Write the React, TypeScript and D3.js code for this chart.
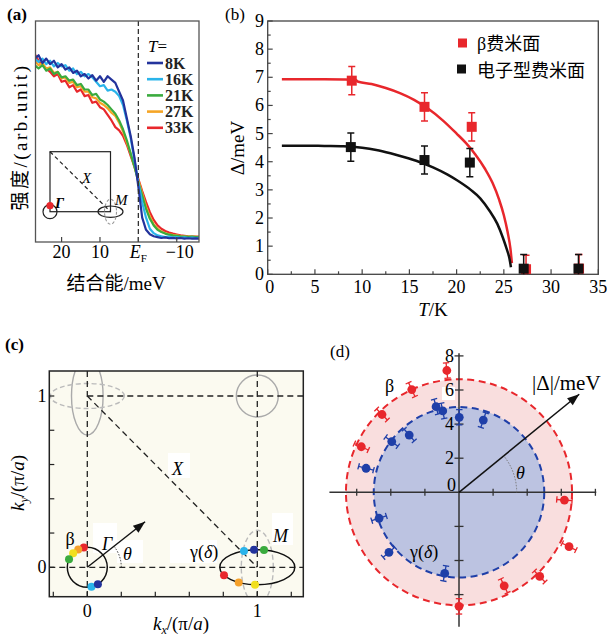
import React from 'react';
import * as d3 from 'd3';

const SERIF = "'Liberation Serif','Times New Roman',serif";
const MIX = "'Liberation Serif','Noto Sans CJK SC',serif";

// ---------- (a) EDC curves ----------
const bindingEnergy = [27, 26, 25, 24, 23, 22, 21, 20, 19, 18, 17, 16, 15, 14, 13, 12, 11, 10, 9, 8, 7, 6, 5, 4, 3, 2, 1, 0, -1, -2, -3, -4, -5, -6, -7, -8, -9, -10, -11, -12, -13, -14, -15, -16];
const edc8K = [83, 84.5, 81, 83, 80.5, 82, 79, 80.5, 78, 79, 76.5, 77.5, 75, 76, 74, 75.5, 73, 75, 72.5, 75, 73.5, 72, 68, 64, 56, 48, 38, 25, 11, 5.5, 3.5, 2.6, 2.2, 1.8, 2.1, 1.7, 1.9, 1.6, 1.8, 1.5, 1.7, 1.5, 1.6, 1.5];
const edc16K = [83, 81.5, 83, 80.5, 82, 79.5, 81, 79.5, 80, 77.5, 78.5, 76, 77, 75, 76, 74.5, 72.5, 70.5, 71, 68.5, 69, 68, 66, 62, 55, 47, 37, 27, 18, 11, 6, 4, 3, 2.6, 2.2, 2.4, 2, 2.2, 1.9, 2.1, 1.8, 2, 1.8, 1.9];
const edc21K = [80, 78.5, 80, 77.5, 78.5, 76, 77, 74.5, 75, 73, 73.5, 71, 71.5, 69, 69, 66.5, 67, 64.5, 63.5, 62, 60, 58, 55, 51, 46, 40, 34, 27, 21, 15, 10.5, 7.5, 5.5, 4.5, 3.8, 3.3, 3, 2.8, 2.6, 2.5, 2.3, 2.4, 2.2, 2.3];
const edc27K = [82, 80, 81, 78.5, 79, 76.5, 77, 74, 74.5, 72, 72.5, 70, 70.5, 68, 68, 65.5, 65, 63, 62, 60.5, 58.5, 57, 54, 50, 45, 40, 34, 28, 22, 16, 11.5, 8, 6, 4.8, 4, 3.5, 3.2, 3, 2.7, 2.6, 2.4, 2.5, 2.3, 2.3];
const edc33K = [85, 82, 80, 78.5, 77, 75, 76, 72.5, 73, 70, 71, 68, 69, 66, 66.5, 63, 63.5, 61, 60, 57.5, 55, 52, 50.5, 48, 44, 39, 34, 28.5, 23, 18, 13.5, 10, 7.5, 6, 5, 4.3, 3.8, 3.4, 3, 2.8, 2.6, 2.5, 2.4, 2.3];
const tempLabels = ['8K', '16K', '21K', '27K', '33K'];
const tempColors = ['#23339c', '#2ab4ea', '#3aab3e', '#f5a526', '#e8272c'];
const aTicks = [20, 10, 0, -10];

// ---------- (b) gap vs T ----------
const betaT = [8.9, 16.6, 21.6, 27.35, 32.96];
const betaGap = [6.88, 5.95, 5.24, 0.18, 0.2];
const betaErr = [0.5, 0.5, 0.5, 0.5, 0.5];
const elecT = [8.8, 16.6, 21.4, 27.1, 32.9];
const elecGap = [4.52, 4.06, 3.97, 0.2, 0.2];
const elecErr = [0.5, 0.5, 0.5, 0.5, 0.5];
const betaFitT = [1.5, 4, 6, 8, 9.3, 9.6, 11, 12.5, 14, 15.5, 17, 18.5, 20, 21, 22, 23, 23.8, 24.5, 25, 25.4, 25.7, 25.85];
const betaFitD = [6.93, 6.93, 6.93, 6.92, 6.9, 6.84, 6.76, 6.62, 6.44, 6.2, 5.88, 5.48, 5.0, 4.66, 4.25, 3.75, 3.25, 2.65, 2.1, 1.5, 0.9, 0.4];
const elecFitT = [1.5, 4, 6, 8, 10, 11.5, 13, 14.5, 16, 17.5, 19, 20, 21.5, 22.5, 23.5, 24.3, 24.9, 25.3, 25.6, 25.75];
const elecFitD = [4.57, 4.57, 4.56, 4.55, 4.5, 4.42, 4.3, 4.16, 4.0, 3.8, 3.55, 3.35, 3.0, 2.7, 2.25, 1.8, 1.3, 0.9, 0.55, 0.25];
const bXTicks = [0, 5, 10, 15, 20, 25, 30, 35];
const bYTicks = [0, 1, 2, 3, 4, 5, 6, 7, 8, 9];

// ---------- (c) Brillouin zone ----------
const cXTicks = [-0.2, 0, 0.2, 0.4, 0.6, 0.8, 1, 1.2];
const cYTicks = [0, 0.2, 0.4, 0.6, 0.8, 1];
const gammaDotAngles = [100, 117, 135, 156, -78, -58];
const gammaDotColors = ['#e8272c', '#f5a02a', '#f1df1f', '#3aab3e', '#2ab4ea', '#23339c'];
const mDotAngles = [110.8, 95, 79.7, -152.6, -119.7, -93.5];
const mDotColors = ['#2ab4ea', '#23339c', '#3aab3e', '#e8272c', '#f5a02a', '#f1df1f'];

// ---------- (d) polar gap ----------
const betaAngles = [95.7, 114.7, 134.7, 155, -4.2, -26.3, -46.2, -64.2, -90];
const betaGaps = [7.18, 6.63, 6.42, 6.32, 6.2, 7.2, 6.84, 6.09, 6.69];
const gammaAngles = [89.8, 71.4, 105, 101.3, 131, 143, 165.5, 198, 220.6, 260];
const gammaGaps = [4.4, 4.47, 5.2, 4.87, 4.45, 4.94, 5.63, 4.93, 5.41, 4.83];
const dTicks = [-6, -4, -2, 2, 4, 6, 8];
const dLabels = [2, 4, 6, 8];
const betaFS = 6.63;
const gammaFS = 5.0;

const RED = '#e8272c';
const BLUE = '#1f3fa8';

function arrowHead(x1: number, y1: number, x2: number, y2: number, len = 11, half = 4) {
  const a = Math.atan2(y2 - y1, x2 - x1);
  const bx = x2 - len * Math.cos(a), by = y2 - len * Math.sin(a);
  const px = -Math.sin(a) * half, py = Math.cos(a) * half;
  return `${x2},${y2} ${bx + px},${by + py} ${bx - px},${by - py}`;
}

export default function App() {
  // ---- (a)
  const xA = d3.scaleLinear().domain([26.8, -15.8]).range([35.5, 199]);
  const yA = d3.scaleLinear().domain([0, 100]).range([242, 21]);
  const edcs = [edc8K, edc16K, edc21K, edc27K, edc33K];
  const lineA = (vals: number[]) =>
    d3.line<number>().x((_, i) => xA(bindingEnergy[i])).y((d) => yA(d))(vals) as string;
  const inX = d3.scaleLinear().domain([0, 1]).range([50, 110.5]);
  const inY = d3.scaleLinear().domain([0, 1]).range([211.7, 151.7]);

  // ---- (b)
  const xB = d3.scaleLinear().domain([0, 35]).range([267.7, 598.3]);
  const yB = d3.scaleLinear().domain([0, 9]).range([274.3, 21]);
  const fitLine = (ts: number[], ds: number[]) =>
    d3.line<number>().x((t) => xB(t)).y((_, i) => yB(ds[i])).curve(d3.curveMonotoneX)(ts) as string;
  const bMinorX = d3.range(0, 35.01, 2.5);
  const bMinorY = d3.range(0, 9.01, 0.5);

  // ---- (c)
  const xC = d3.scaleLinear().domain([0, 1]).range([87.3, 257.3]);
  const yC = d3.scaleLinear().domain([0, 1]).range([567.3, 396]);
  const cL = 49.3, cR = 303.3, cT = 371, cB = 596.7;
  const gR = 20;
  const mRx = 37.5, mRy = 17.5;
  const arrowC = { x: xC(0.34), y: yC(0.266) };

  // ---- (d)
  const cx = 459, cy = 492.3;
  const rD = d3.scaleLinear().domain([0, 1]).range([0, 17.05]);
  const polar = (deg: number, r: number): [number, number] => [
    cx + rD(r) * Math.cos((deg * Math.PI) / 180),
    cy - rD(r) * Math.sin((deg * Math.PI) / 180),
  ];
  const arrowD = polar(39.2, 9.1);

  const errPoint = (deg: number, r: number, color: string, key: string) => {
    const [x, y] = polar(deg, r);
    const [x1, y1] = polar(deg, r - 0.45);
    const [x2, y2] = polar(deg, r + 0.45);
    const a = (deg * Math.PI) / 180;
    const px = Math.sin(a) * 3.2, py = Math.cos(a) * 3.2;
    return (
      <g key={key}>
        <line x1={x1} y1={y1} x2={x2} y2={y2} stroke={color} strokeWidth={1.3} />
        <line x1={x1 - px} y1={y1 - py} x2={x1 + px} y2={y1 + py} stroke={color} strokeWidth={1.3} />
        <line x1={x2 - px} y1={y2 - py} x2={x2 + px} y2={y2 + py} stroke={color} strokeWidth={1.3} />
        <circle cx={x} cy={y} r={4.4} fill={color} />
      </g>
    );
  };

  const thetaArcC = (() => {
    const r = 34, a = (38 * Math.PI) / 180;
    const x0 = xC(0), y0 = yC(0);
    return `M${x0 + r},${y0} A${r},${r} 0 0 0 ${x0 + r * Math.cos(a)},${y0 - r * Math.sin(a)}`;
  })();
  const thetaArcD = (() => {
    const r = 57.7, a = (39.2 * Math.PI) / 180;
    return `M${cx + r},${cy} A${r},${r} 0 0 0 ${cx + r * Math.cos(a)},${cy - r * Math.sin(a)}`;
  })();

  return (
    <svg width={607} height={639} viewBox="0 0 607 639"
      style={{ position: 'absolute', left: 0, top: 0, background: '#fff' }}
      fontFamily={SERIF}>
      <defs>
        <clipPath id="clipA"><rect x={35.5} y={21} width={163.5} height={221} /></clipPath>
        <clipPath id="clipB"><rect x={267.7} y={21} width={330.6} height={253.3} /></clipPath>
        <clipPath id="clipC"><rect x={cL} y={cT} width={cR - cL} height={cB - cT} /></clipPath>
      </defs>

      {/* ================= (a) ================= */}
      <text x={7} y={20} fontSize={17} fontWeight="bold">(a)</text>
      <g clipPath="url(#clipA)">
        {edcs.slice().reverse().map((vals, k) => {
          const i = edcs.length - 1 - k;
          return <path key={i} d={lineA(vals)} fill="none" stroke={tempColors[i]} strokeWidth={2.2} strokeLinejoin="round" />;
        })}
      </g>
      <line x1={xA(0)} y1={21} x2={xA(0)} y2={242} stroke="#333" strokeWidth={1.3} strokeDasharray="5,3" />
      <rect x={35.5} y={21} width={163.5} height={221} fill="none" stroke="#555" strokeWidth={1.3} />
      {aTicks.map((t) => (
        <line key={t} x1={xA(t)} x2={xA(t)} y1={242} y2={237} stroke="#444" strokeWidth={1.2} />
      ))}
      {aTicks.map((t) =>
        t === 0 ? (
          <text key={t} x={xA(t)} y={258} fontSize={18} textAnchor="middle">
            <tspan fontStyle="italic">E</tspan>
            <tspan fontSize={11} dy={4}>F</tspan>
          </text>
        ) : (
          <text key={t} x={xA(t) + (t < 0 ? 3 : 0)} y={258} fontSize={18} textAnchor="middle">
            {t < 0 ? `−${-t}` : `${t}`}
          </text>
        )
      )}
      <text x={116} y={290} fontSize={19} textAnchor="middle" fontFamily={MIX}>结合能/meV</text>
      <text transform="translate(27,137) rotate(-90)" fontSize={19} letterSpacing={2.5} textAnchor="middle" fontFamily={MIX}>强度/(arb.unit)</text>
      {/* legend */}
      <text x={148} y={52} fontSize={17}><tspan fontStyle="italic">T</tspan>=</text>
      {tempLabels.map((lab, i) => {
        const y = 63 + i * 16.2;
        return (
          <g key={lab}>
            <line x1={147} x2={163} y1={y} y2={y} stroke={tempColors[i]} strokeWidth={2.6} />
            <text x={165} y={y + 5.5} fontSize={16} fontWeight="bold" fill="#222">{lab}</text>
          </g>
        );
      })}
      {/* inset BZ */}
      <rect x={inX(0)} y={inY(1)} width={inX(1) - inX(0)} height={inY(0) - inY(1)} fill="none" stroke="#222" strokeWidth={1.2} />
      <line x1={inX(0)} y1={inY(1)} x2={inX(1)} y2={inY(0)} stroke="#222" strokeWidth={1.2} strokeDasharray="4,3" />
      <circle cx={inX(0)} cy={inY(0)} r={7} fill="none" stroke="#222" strokeWidth={1.2} />
      <ellipse cx={inX(1)} cy={inY(0)} rx={12.5} ry={5.7} fill="none" stroke="#222" strokeWidth={1.2} />
      <ellipse cx={inX(1)} cy={inY(0)} rx={6} ry={12.5} fill="none" stroke="#999" strokeWidth={1.1} strokeDasharray="3,2" />
      <circle cx={inX(0)} cy={inY(0) - 6} r={3.6} fill={RED} />
      <text x={55} y={208} fontSize={15} fontStyle="italic" fontWeight="bold">Γ</text>
      <text x={82} y={183} fontSize={15} fontStyle="italic">X</text>
      <text x={115} y={205} fontSize={15} fontStyle="italic">M</text>

      {/* ================= (b) ================= */}
      <text x={225} y={20} fontSize={17}>(b)</text>
      <rect x={267.7} y={21} width={330.6} height={253.3} fill="none" stroke="#444" strokeWidth={1.3} />
      {bMinorX.map((t) => (
        <line key={'bx' + t} x1={xB(t)} x2={xB(t)} y1={274.3} y2={274.3 - (t % 5 === 0 ? 5 : 3)} stroke="#444" strokeWidth={1.2} />
      ))}
      {bMinorY.map((t) => (
        <line key={'by' + t} x1={267.7} x2={267.7 + (t % 1 === 0 ? 5 : 3)} y1={yB(t)} y2={yB(t)} stroke="#444" strokeWidth={1.2} />
      ))}
      {bXTicks.map((t) => (
        <text key={'bxl' + t} x={xB(t) + (t === 0 ? 2 : 0)} y={293} fontSize={18} textAnchor="middle">{t}</text>
      ))}
      {bYTicks.map((t) => (
        <text key={'byl' + t} x={264} y={yB(t) + 6} fontSize={18} textAnchor="end">{t}</text>
      ))}
      <text transform="translate(244,148) rotate(-90)" fontSize={19} textAnchor="middle">Δ/meV</text>
      <text x={433} y={316} fontSize={19} textAnchor="middle"><tspan fontStyle="italic">T</tspan>/K</text>
      <g clipPath="url(#clipB)">
        <path d={fitLine(betaFitT, betaFitD)} fill="none" stroke={RED} strokeWidth={2.5} />
        <path d={fitLine(elecFitT, elecFitD)} fill="none" stroke="#111" strokeWidth={2.5} />
        {betaT.map((t, i) => (
          <g key={'br' + i}>
            <line x1={xB(t)} x2={xB(t)} y1={yB(betaGap[i] - betaErr[i])} y2={yB(betaGap[i] + betaErr[i])} stroke={RED} strokeWidth={1.5} />
            <line x1={xB(t) - 3.5} x2={xB(t) + 3.5} y1={yB(betaGap[i] + betaErr[i])} y2={yB(betaGap[i] + betaErr[i])} stroke={RED} strokeWidth={1.5} />
            <line x1={xB(t) - 3.5} x2={xB(t) + 3.5} y1={yB(betaGap[i] - betaErr[i])} y2={yB(betaGap[i] - betaErr[i])} stroke={RED} strokeWidth={1.5} />
            <rect x={xB(t) - 5} y={yB(betaGap[i]) - 5} width={10} height={10} fill={RED} />
          </g>
        ))}
        {elecT.map((t, i) => (
          <g key={'bk' + i}>
            <line x1={xB(t)} x2={xB(t)} y1={yB(elecGap[i] - elecErr[i])} y2={yB(elecGap[i] + elecErr[i])} stroke="#111" strokeWidth={1.5} />
            <line x1={xB(t) - 3.5} x2={xB(t) + 3.5} y1={yB(elecGap[i] + elecErr[i])} y2={yB(elecGap[i] + elecErr[i])} stroke="#111" strokeWidth={1.5} />
            <line x1={xB(t) - 3.5} x2={xB(t) + 3.5} y1={yB(elecGap[i] - elecErr[i])} y2={yB(elecGap[i] - elecErr[i])} stroke="#111" strokeWidth={1.5} />
            <rect x={xB(t) - 5} y={yB(elecGap[i]) - 5} width={10} height={10} fill="#111" />
          </g>
        ))}
      </g>
      {/* legend */}
      <rect x={458} y={38.5} width={9} height={9} fill={RED} />
      <text x={477} y={49.5} fontSize={18} fontFamily={MIX}>β费米面</text>
      <rect x={457} y={64.5} width={9} height={9} fill="#111" />
      <text x={477} y={76.5} fontSize={18} fontFamily={MIX}>电子型费米面</text>

      {/* ================= (c) ================= */}
      <text x={5} y={350} fontSize={17} fontWeight="bold">(c)</text>
      <rect x={cL} y={cT} width={cR - cL} height={cB - cT} fill="#fbfaf0" stroke="none" />
      <g clipPath="url(#clipC)">
        <rect x={168} y={453} width={22} height={25} fill="#fff" />
        <rect x={93} y={523} width={24} height={30} fill="#fff" />
        <rect x={117} y={540} width={26} height={23} fill="#fff" />
        <rect x={170} y={540} width={47} height={23} fill="#fff" />
        <rect x={272} y={513} width={21} height={32} fill="#fff" />
        <ellipse cx={xC(0)} cy={yC(1)} rx={15.8} ry={39} fill="none" stroke="#aaa" strokeWidth={1.4} />
        <ellipse cx={xC(0)} cy={yC(1)} rx={37} ry={12.5} fill="none" stroke="#bbb" strokeWidth={1.4} strokeDasharray="5,3" />
        <circle cx={xC(1)} cy={yC(1)} r={21} fill="none" stroke="#aaa" strokeWidth={1.4} />
        <ellipse cx={xC(1)} cy={yC(0)} rx={16} ry={37} fill="none" stroke="#bbb" strokeWidth={1.4} strokeDasharray="5,3" />
        <line x1={xC(0)} x2={xC(0)} y1={cT} y2={cB} stroke="#222" strokeWidth={1.3} strokeDasharray="6,4" />
        <line x1={xC(1)} x2={xC(1)} y1={cT} y2={cB} stroke="#222" strokeWidth={1.3} strokeDasharray="6,4" />
        <line x1={cL} x2={cR} y1={yC(0)} y2={yC(0)} stroke="#222" strokeWidth={1.3} strokeDasharray="6,4" />
        <line x1={xC(0)} x2={cR} y1={yC(1)} y2={yC(1)} stroke="#222" strokeWidth={1.3} strokeDasharray="6,4" />
        <line x1={xC(0)} x2={xC(1)} y1={yC(1)} y2={yC(0)} stroke="#222" strokeWidth={1.3} strokeDasharray="6,4" />
        <circle cx={xC(0)} cy={yC(0)} r={gR} fill="none" stroke="#111" strokeWidth={1.5} />
        <ellipse cx={xC(1)} cy={yC(0)} rx={mRx} ry={mRy} fill="none" stroke="#111" strokeWidth={1.5} />
        {gammaDotAngles.map((a, i) => (
          <circle key={'gd' + i} cx={xC(0) + gR * Math.cos((a * Math.PI) / 180)} cy={yC(0) - gR * Math.sin((a * Math.PI) / 180)} r={4} fill={gammaDotColors[i]} />
        ))}
        {mDotAngles.map((a, i) => (
          <circle key={'md' + i} cx={xC(1) + mRx * Math.cos((a * Math.PI) / 180)} cy={yC(0) - mRy * Math.sin((a * Math.PI) / 180)} r={4} fill={mDotColors[i]} />
        ))}
        <line x1={xC(0)} y1={yC(0)} x2={arrowC.x} y2={arrowC.y} stroke="#111" strokeWidth={1.4} />
        <polygon points={arrowHead(xC(0), yC(0), arrowC.x, arrowC.y, 12, 4.5)} fill="#111" />
        <path d={thetaArcC} fill="none" stroke="#333" strokeWidth={1} strokeDasharray="1.5,1.5" />
      </g>
      <rect x={cL} y={cT} width={cR - cL} height={cB - cT} fill="none" stroke="#222" strokeWidth={1.5} />
      {cXTicks.map((t) => (
        <line key={'cx' + t} x1={xC(t)} x2={xC(t)} y1={cB} y2={cB - 5} stroke="#222" strokeWidth={1.2} />
      ))}
      {cYTicks.map((t) => (
        <line key={'cy' + t} x1={cL} x2={cL + 5} y1={yC(t)} y2={yC(t)} stroke="#222" strokeWidth={1.2} />
      ))}
      {[0, 1].map((t) => (
        <text key={'cxl' + t} x={xC(t)} y={617} fontSize={18} textAnchor="middle">{t}</text>
      ))}
      {[0, 1].map((t) => (
        <text key={'cyl' + t} x={42} y={yC(t) + 6} fontSize={18} textAnchor="middle">{t}</text>
      ))}
      <text x={70} y={545} fontSize={18} textAnchor="middle">β</text>
      <text x={102} y={550} fontSize={18} fontStyle="italic">Γ</text>
      <text x={123} y={560} fontSize={18} fontStyle="italic">θ</text>
      <text x={190} y={558} fontSize={18}>γ(<tspan fontStyle="italic">δ</tspan>)</text>
      <text x={273} y={542} fontSize={18} fontStyle="italic">M</text>
      <text x={172} y={475} fontSize={18} fontStyle="italic">X</text>
      <text x={181} y={630} fontSize={19} textAnchor="middle">
        <tspan fontStyle="italic">k</tspan><tspan fontSize={12} dy={4} fontStyle="italic">x</tspan><tspan dy={-4}>/(π/</tspan><tspan fontStyle="italic">a</tspan>)
      </text>
      <text transform="translate(24,483) rotate(-90)" fontSize={19} textAnchor="middle">
        <tspan fontStyle="italic">k</tspan><tspan fontSize={12} dy={4} fontStyle="italic">y</tspan><tspan dy={-4}>/(π/</tspan><tspan fontStyle="italic">a</tspan>)
      </text>

      {/* ================= (d) ================= */}
      <text x={330} y={357} fontSize={17}>(d)</text>
      <circle cx={cx} cy={cy} r={rD(betaFS)} fill="#f9dede" stroke={RED} strokeWidth={2} strokeDasharray="7,4.5" />
      <circle cx={cx} cy={cy} r={rD(gammaFS)} fill="#bcc3e1" stroke={BLUE} strokeWidth={2} strokeDasharray="7,4.5" />
      <line x1={cx - rD(7.6)} x2={cx + rD(8.05)} y1={cy} y2={cy} stroke="#333" strokeWidth={1.5} />
      <line x1={cx} x2={cx} y1={cy - rD(8.15)} y2={cy + rD(7.88)} stroke="#333" strokeWidth={1.5} />
      {dTicks.map((t) => (
        <line key={'dx' + t} x1={cx + rD(t)} x2={cx + rD(t)} y1={cy - 3.5} y2={cy + 3.5} stroke="#333" strokeWidth={1.3} />
      ))}
      {dTicks.map((t) => (
        <line key={'dy' + t} x1={cx - 4.5} x2={cx + 4.5} y1={cy - rD(t)} y2={cy - rD(t)} stroke="#333" strokeWidth={1.3} />
      ))}
      <rect x={442} y={387} width={13} height={13} fill="#fff" />
      {dLabels.map((t) => (
        <text key={'dl' + t} x={454} y={cy - rD(t) + 6} fontSize={18} textAnchor="end">{t}</text>
      ))}
      <text x={456} y={491} fontSize={18} textAnchor="end">0</text>
      {betaAngles.map((a, i) => errPoint(a, betaGaps[i], RED, 'rb' + i))}
      {gammaAngles.map((a, i) => errPoint(a, gammaGaps[i], BLUE, 'gb' + i))}
      <line x1={cx} y1={cy} x2={arrowD[0]} y2={arrowD[1]} stroke="#111" strokeWidth={1.5} />
      <polygon points={arrowHead(cx, cy, arrowD[0], arrowD[1], 12, 4.5)} fill="#111" />
      <path d={thetaArcD} fill="none" stroke="#777" strokeWidth={1} strokeDasharray="1.5,1.5" />
      <text x={516} y={479} fontSize={18} fontStyle="italic">θ</text>
      <text x={385} y={392} fontSize={18}>β</text>
      <text x={410} y={558} fontSize={18}>γ(<tspan fontStyle="italic">δ</tspan>)</text>
      <text x={532} y={390} fontSize={21}>|Δ|/meV</text>
    </svg>
  );
}
